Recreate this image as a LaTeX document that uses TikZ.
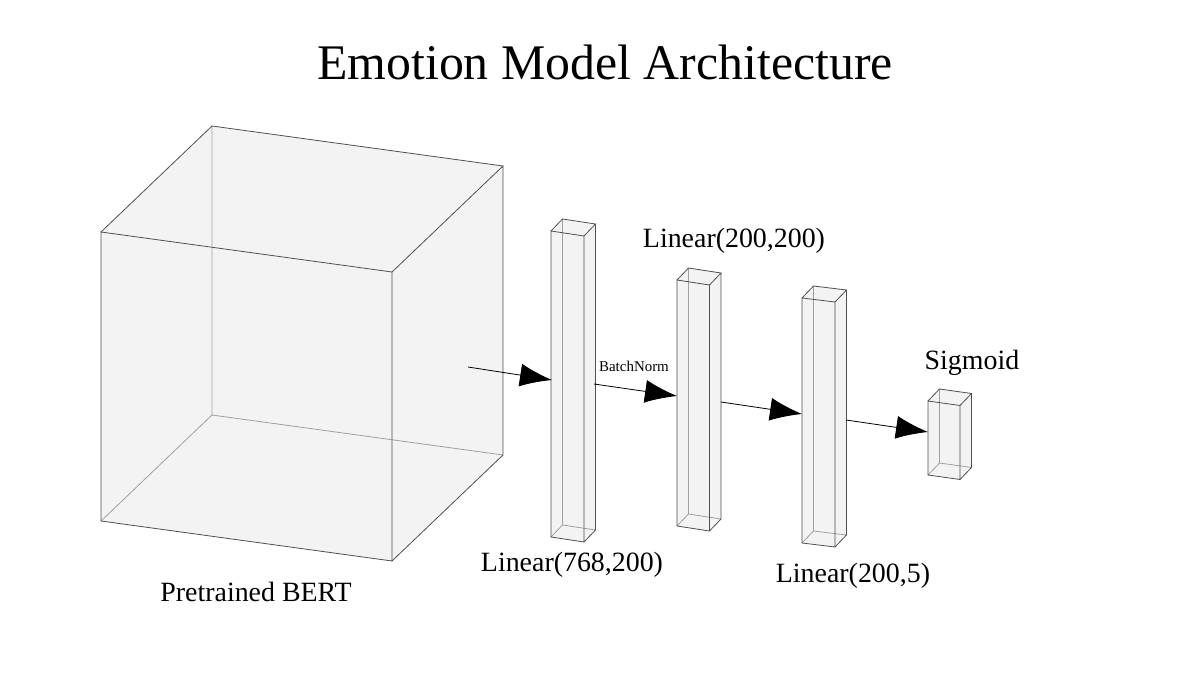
\documentclass[tikz,border=0pt]{standalone}
\usepackage{fontspec}
\setmainfont{Liberation Serif}
\usetikzlibrary{arrows.meta}
\definecolor{boxfill}{HTML}{F3F3F3}
\definecolor{boxedge}{HTML}{505050}
\definecolor{hiddenedge}{HTML}{A0A0A0}
% layer box: name, front top-left x, y, width, height, slope, depth dx, dy
\newcommand\layerbox[8]{
	\coordinate (#1-ftl) at (#2, #3);
	\coordinate (#1-ftr) at (#2+#4, #3+#6);
	\coordinate (#1-fbr) at (#2+#4, #3+#6+#5);
	\coordinate (#1-fbl) at (#2, #3+#5);
	\coordinate (#1-btl) at (#2+#7, #3+#8);
	\coordinate (#1-btr) at (#2+#4+#7, #3+#6+#8);
	\coordinate (#1-bbr) at (#2+#4+#7, #3+#6+#5+#8);
	\coordinate (#1-bbl) at (#2+#7, #3+#5+#8);
	\fill[boxfill] (#1-ftl) -- (#1-btl) -- (#1-btr) -- (#1-bbr) -- (#1-fbr) -- (#1-fbl) -- cycle;
	\draw[hiddenedge] (#1-btl) -- (#1-bbl) -- (#1-bbr) (#1-bbl) -- (#1-fbl);
	\draw[boxedge] (#1-ftl) -- (#1-ftr) -- (#1-fbr) -- (#1-fbl) -- cycle;
	\draw[boxedge] (#1-ftl) -- (#1-btl) -- (#1-btr) -- (#1-ftr) (#1-btr) -- (#1-bbr) -- (#1-fbr);
}

\begin{document}
\begin{tikzpicture}[x=1bp, y=-1bp, line width=0.8bp,
	flow/.style={draw=black, -{Latex[length=32bp, width=23bp]}},
	caption/.style={font=\fontsize{28}{32}\selectfont, inner sep=0pt}]
	\useasboundingbox (0, 0) rectangle (1196, 688);
	%%%%% TITLE %%%%%
	\node[font=\fontsize{50}{58}\selectfont, inner sep=0pt] (title) at (605, 62) {Emotion Model Architecture};
	
	%%%%% LAYERS %%%%%
	\layerbox{bert}{101}{232}{291}{289}{40}{111}{-106}
	\layerbox{linA}{551}{231}{33}{306}{5}{11.5}{-12}
	\layerbox{linB}{677}{280}{32.5}{246}{5}{11.5}{-12}
	\layerbox{linC}{802}{298}{33}{245}{4}{11.5}{-12}
	\layerbox{sigm}{928}{401}{32}{74}{4.5}{11.5}{-12}
	
	%%%%% CONNECTORS %%%%%
	\coordinate (bert-out) at (468, 367);
	\coordinate (linA-in) at (552, 380);
	\coordinate (linA-out) at (594, 384);
	\coordinate (linB-in) at (677, 396);
	\coordinate (linB-out) at (721, 402);
	\coordinate (linC-in) at (802, 414);
	\coordinate (linC-out) at (846, 420);
	\coordinate (sigm-in) at (928, 432);
	\draw[flow] (bert-out) -- (linA-in);
	\draw[flow] (linA-out) -- (linB-in);
	\draw[flow] (linB-out) -- (linC-in);
	\draw[flow] (linC-out) -- (sigm-in);
	
	%%%%% LABELS %%%%%
	\node[caption] (bert-label) at (256, 592) {Pretrained BERT};
	\node[caption] (linA-label) at (572, 565) {Linear(768,200)};
	\node[caption] (linB-label) at (734, 241) {Linear(200,200)};
	\node[caption] (linC-label) at (853, 576) {Linear(200,5)};
	\node[caption] (sigm-label) at (972, 363) {Sigmoid};
	\node[font=\fontsize{15}{18}\selectfont, inner sep=0pt] (norm-label) at (634, 366) {BatchNorm};
\end{tikzpicture}
\end{document}
